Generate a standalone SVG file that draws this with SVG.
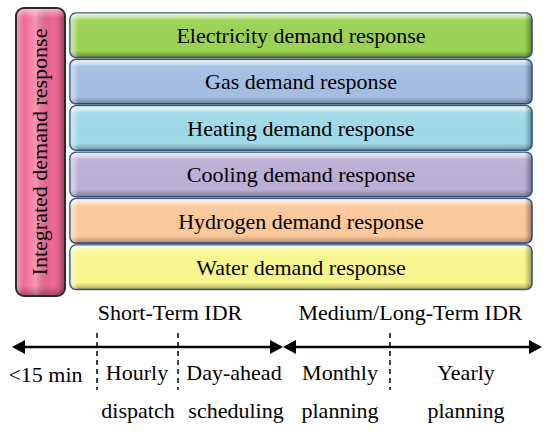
<svg xmlns="http://www.w3.org/2000/svg" width="550" height="432" viewBox="0 0 550 432">
<defs>
<linearGradient id="gv" x1="0" y1="0" x2="0" y2="1">
<stop offset="0" stop-color="#fff" stop-opacity="0.8"/>
<stop offset="0.1" stop-color="#fff" stop-opacity="0.4"/>
<stop offset="0.15" stop-color="#fff" stop-opacity="0.05"/>
<stop offset="0.85" stop-color="#000" stop-opacity="0"/>
<stop offset="1" stop-color="#000" stop-opacity="0.3"/>
</linearGradient>
<linearGradient id="gh" x1="0" y1="0" x2="1" y2="0">
<stop offset="0" stop-color="#fff" stop-opacity="0.45"/>
<stop offset="0.011" stop-color="#fff" stop-opacity="0.25"/>
<stop offset="0.016" stop-color="#fff" stop-opacity="0"/>
<stop offset="0.985" stop-color="#000" stop-opacity="0"/>
<stop offset="1" stop-color="#000" stop-opacity="0.35"/>
</linearGradient>
<linearGradient id="ghp" x1="0" y1="0" x2="1" y2="0">
<stop offset="0" stop-color="#fff" stop-opacity="0.3"/>
<stop offset="0.15" stop-color="#fff" stop-opacity="0"/>
<stop offset="0.4" stop-color="#fff" stop-opacity="0.3"/>
<stop offset="0.75" stop-color="#000" stop-opacity="0"/>
<stop offset="0.86" stop-color="#000" stop-opacity="0.05"/>
<stop offset="1" stop-color="#000" stop-opacity="0.35"/>
</linearGradient>
<linearGradient id="gvp" x1="0" y1="0" x2="0" y2="1">
<stop offset="0" stop-color="#fff" stop-opacity="0.5"/>
<stop offset="0.03" stop-color="#fff" stop-opacity="0"/>
<stop offset="0.97" stop-color="#000" stop-opacity="0"/>
<stop offset="1" stop-color="#000" stop-opacity="0.3"/>
</linearGradient>
<marker id="ah" viewBox="0 0 13 14" refX="5" refY="7" markerWidth="13" markerHeight="14" markerUnits="userSpaceOnUse" orient="auto-start-reverse">
<path d="M0,0 L13,7 L0,14 Z" fill="#000"/>
</marker>
<style>
.bar{stroke:#34557f;stroke-width:1.6}
.ov{stroke:none}
.lbl{font-family:"Liberation Serif","Times New Roman",serif;font-size:22px;fill:#000;text-anchor:middle}
.ax{stroke:#000;stroke-width:2.5;fill:none}
.dash{stroke:#000;stroke-width:1.5;stroke-dasharray:5,4;fill:none}
</style>
</defs>
<rect width="550" height="432" fill="#fff"/>

<g id="integrated">
<rect x="16" y="8" width="49" height="288" rx="8" fill="#f06a95" stroke="#2b2b2b" stroke-width="2"/>
<rect class="ov" x="17" y="9" width="47" height="286" rx="7" fill="url(#ghp)"/>
<rect class="ov" x="17" y="9" width="47" height="286" rx="7" fill="url(#gvp)"/>
<text class="lbl" transform="translate(47,152) rotate(-90)">Integrated demand response</text>
</g>

<g id="electricity">
<rect class="bar" x="70" y="13" width="462" height="44.5" rx="6" fill="#9dd353"/>
<rect class="ov" x="70.5" y="13.5" width="461" height="43.5" rx="6" fill="url(#gv)"/>
<rect class="ov" x="70.5" y="13.5" width="461" height="43.5" rx="6" fill="url(#gh)"/>
<text class="lbl" x="301" y="43">Electricity demand response</text>
</g>

<g id="gas">
<rect class="bar" x="70" y="59.4" width="462" height="44.5" rx="6" fill="#a5bfe4"/>
<rect class="ov" x="70.5" y="59.9" width="461" height="43.5" rx="6" fill="url(#gv)"/>
<rect class="ov" x="70.5" y="59.9" width="461" height="43.5" rx="6" fill="url(#gh)"/>
<text class="lbl" x="301" y="89.4">Gas demand response</text>
</g>

<g id="heating">
<rect class="bar" x="70" y="105.8" width="462" height="44.5" rx="6" fill="#a0dbe9"/>
<rect class="ov" x="70.5" y="106.3" width="461" height="43.5" rx="6" fill="url(#gv)"/>
<rect class="ov" x="70.5" y="106.3" width="461" height="43.5" rx="6" fill="url(#gh)"/>
<text class="lbl" x="301" y="135.8">Heating demand response</text>
</g>

<g id="cooling">
<rect class="bar" x="70" y="152.2" width="462" height="44.5" rx="6" fill="#bdb0d6"/>
<rect class="ov" x="70.5" y="152.7" width="461" height="43.5" rx="6" fill="url(#gv)"/>
<rect class="ov" x="70.5" y="152.7" width="461" height="43.5" rx="6" fill="url(#gh)"/>
<text class="lbl" x="301" y="182.2">Cooling demand response</text>
</g>

<g id="hydrogen">
<rect class="bar" x="70" y="198.6" width="462" height="44.5" rx="6" fill="#fcc99b"/>
<rect class="ov" x="70.5" y="199.1" width="461" height="43.5" rx="6" fill="url(#gv)"/>
<rect class="ov" x="70.5" y="199.1" width="461" height="43.5" rx="6" fill="url(#gh)"/>
<text class="lbl" x="301" y="228.6">Hydrogen demand response</text>
</g>

<g id="water">
<rect class="bar" x="70" y="245" width="462" height="44.5" rx="6" fill="#f9f88e"/>
<rect class="ov" x="70.5" y="245.5" width="461" height="43.5" rx="6" fill="url(#gv)"/>
<rect class="ov" x="70.5" y="245.5" width="461" height="43.5" rx="6" fill="url(#gh)"/>
<text class="lbl" x="301" y="275">Water demand response</text>
</g>

<g id="timeline-labels">
<text class="lbl" x="170" y="320">Short-Term IDR</text>
<text class="lbl" x="410.5" y="320">Medium/Long-Term IDR</text>
<text class="lbl" x="45.5" y="382">&lt;15 min</text>
<text class="lbl" x="137" y="380">Hourly</text>
<text class="lbl" x="234" y="380">Day-ahead</text>
<text class="lbl" x="340" y="380">Monthly</text>
<text class="lbl" x="466" y="380">Yearly</text>
<text class="lbl" x="138" y="418">dispatch</text>
<text class="lbl" x="236" y="418">scheduling</text>
<text class="lbl" x="340" y="418">planning</text>
<text class="lbl" x="466" y="418">planning</text>
</g>

<g id="connectors">
<line class="ax" x1="20" y1="347" x2="275" y2="347" marker-start="url(#ah)" marker-end="url(#ah)"/>
<line class="ax" x1="291" y1="347" x2="534" y2="347" marker-start="url(#ah)" marker-end="url(#ah)"/>
<line class="dash" x1="97" y1="333" x2="97" y2="390"/>
<line class="dash" x1="178" y1="333" x2="178" y2="390"/>
<line class="dash" x1="390" y1="333" x2="390" y2="390"/>
</g>
</svg>
